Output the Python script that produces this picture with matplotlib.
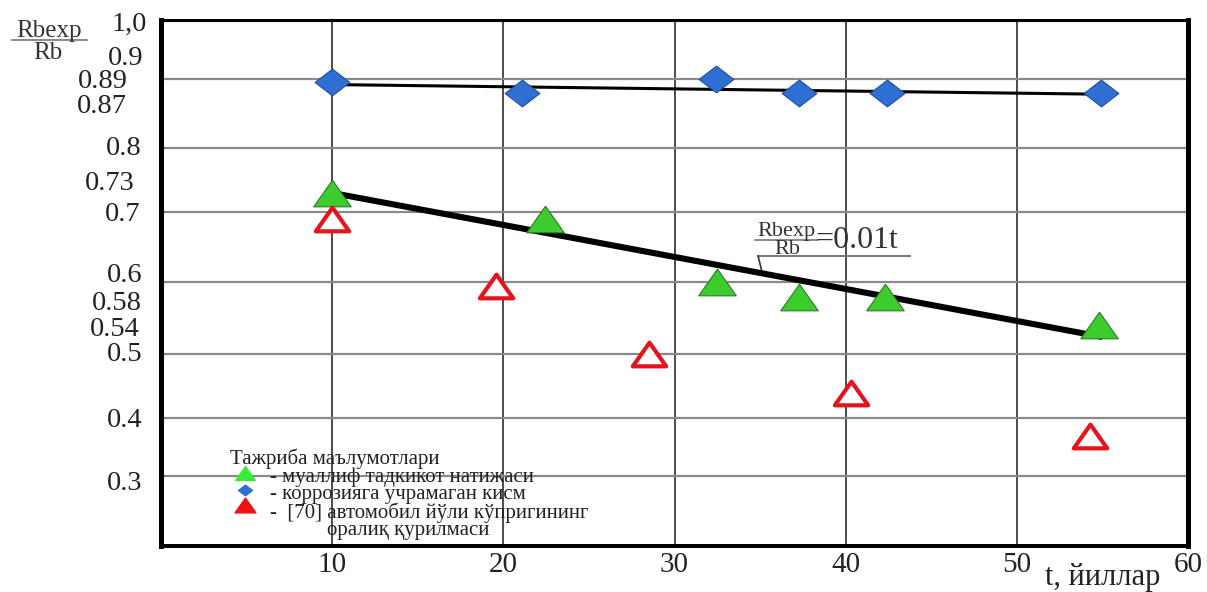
import numpy as np
import matplotlib
matplotlib.use("Agg")
import matplotlib.pyplot as plt
from matplotlib.path import Path
from matplotlib.lines import Line2D

# --- data ---
t_author = [10, 22.45, 32.5, 37.3, 42.3, 54.8]        # green, author's tests
r_author = [0.73, 0.69, 0.60, 0.58, 0.58, 0.54]
t_sound = [10, 21.1, 32.4, 37.3, 42.4, 54.9]          # blue, uncorroded part
r_sound = [0.895, 0.88, 0.90, 0.88, 0.88, 0.88]
t_ref = [10, 19.6, 28.5, 40.3, 54.3]                  # red, [70] bridge span
r_ref = [0.69, 0.595, 0.50, 0.44, 0.37]
trend_author_t = [10, 55]
trend_author_r = [0.73, 0.524]
trend_sound_t = [10, 55]
trend_sound_r = [0.892, 0.878]

x_ticks = [10, 20, 30, 40, 50, 60]
y_grid = [0.3, 0.4, 0.5, 0.6, 0.7, 0.8, 0.9]
y_labels = ["1,0", "0.9", "0.89", "0.87", "0.8", "0.73", "0.7",
            "0.6", "0.58", "0.54", "0.5", "0.4", "0.3"]
y_label_pos = [0.992, 0.935, 0.896, 0.860, 0.8, 0.745, 0.696,
               0.610, 0.570, 0.535, 0.500, 0.397, 0.288]
y_label_right = [147, 143, 128, 127, 142, 135, 140, 143, 142, 140, 142, 142, 142]

legend_title = "Тажриба маълумотлари"
legend_lines = ["- муаллиф тадкикот натижаси",
                "- коррозияга учрамаган кисм",
                "-  [70] автомобил йўли кўпригининг"]
legend_tail = "оралиқ қурилмаси"

# the original axis is hand drawn: gridlines are not evenly spaced
scale_v = np.array([0.1, 0.2, 0.3, 0.4, 0.5, 0.6, 0.7, 0.8, 0.9, 1.0, 1.1])
scale_p = -np.array([592, 534, 476, 418, 354, 282, 212, 148, 79, 20, -39], float)


def fwd(v):
    return np.interp(v, scale_v, scale_p)


def inv(p):
    return np.interp(p, scale_p, scale_v)


tri = Path([(0, 0.71), (-1, -0.71), (1, -0.71), (0, 0.71)],
           [Path.MOVETO, Path.LINETO, Path.LINETO, Path.CLOSEPOLY])
dia = Path([(0, 0.77), (1, 0), (0, -0.77), (-1, 0), (0, 0.77)],
           [Path.MOVETO, Path.LINETO, Path.LINETO, Path.LINETO, Path.CLOSEPOLY])

plt.rcParams["font.family"] = ["Liberation Serif", "DejaVu Serif"]

W, H = 1207, 592
fig = plt.figure(figsize=(W / 100, H / 100), dpi=100)
ax = fig.add_axes([161 / W, 46 / H, 1027 / W, 526 / H])
ax.set_yscale("function", functions=(fwd, inv))
ax.set_xlim(0, 60)
ax.set_ylim(0.18, 1.0)

for spine, lw in (("left", 3.6), ("right", 3.6), ("top", 2.2), ("bottom", 2.9)):
    ax.spines[spine].set_linewidth(lw)
    ax.spines[spine].set_color("black")

ax.set_yticks(y_grid)
ax.set_yticklabels([])
ax.yaxis.set_minor_locator(matplotlib.ticker.NullLocator())
ax.set_xticks(x_ticks)
ax.set_xticklabels([str(v) for v in x_ticks], fontsize=21, color="#222222")
ax.tick_params(axis="both", length=0)
ax.tick_params(axis="x", pad=4)
ax.grid(axis="x", color="#1a1a1a", linewidth=1.1)
ax.grid(axis="y", color="#8a8a8a", linewidth=1.6)

# trend lines
ax.plot(trend_sound_t, trend_sound_r, color="black", linewidth=2.2, zorder=3)
ax.plot(trend_author_t, trend_author_r, color="black", linewidth=4.4,
        solid_capstyle="butt", zorder=3)

# points
ax.plot(t_sound, r_sound, linestyle="none", marker=dia, markersize=25,
        markerfacecolor="#2f6fd3", markeredgecolor="#1f4f9f",
        markeredgewidth=0.8, zorder=4)
ax.plot(t_author, r_author, linestyle="none", marker=tri, markersize=27,
        markerfacecolor="#3ccc2e", markeredgecolor="#2a7a2a",
        markeredgewidth=0.8, zorder=4)
ax.plot(t_ref, r_ref, linestyle="none", marker=tri, markersize=24,
        markerfacecolor="white", markeredgecolor="#e5131c",
        markeredgewidth=3.0, zorder=4)

# y labels placed by hand, as in the original drawing
ytr = ax.get_yaxis_transform()
for lab, pos, right in zip(y_labels, y_label_pos, y_label_right):
    ax.text((right - 161) / 1027, pos, lab, transform=ytr, ha="right",
            va="center", fontsize=20.5, color="#222222", clip_on=False)

# y axis name
fig.text(49 / W, 1 - 31 / H, "Rbexp", ha="center", va="center",
         fontsize=18, color="#333333")
fig.add_artist(Line2D([12 / W, 87 / W], [1 - 40 / H, 1 - 40 / H],
                      color="#777777", linewidth=1.2))
fig.text(48 / W, 1 - 53 / H, "Rb", ha="center", va="center",
         fontsize=18, color="#333333")

# x axis name
fig.text(1103 / W, 1 - 577 / H, "t, йиллар", ha="center", va="center",
         fontsize=22, color="#222222")

# equation of the trend
atr = ax.transAxes
ax.text(0.6086, 0.598, "Rbexp", transform=atr, ha="center", va="center",
        fontsize=16, color="#333333")
ax.text(0.6096, 0.563, "Rb", transform=atr, ha="center", va="center",
        fontsize=16, color="#333333")
ax.text(0.6368, 0.580, "=0.01t", transform=atr, ha="left", va="center",
        fontsize=23, color="#333333")
ax.plot([0.5786, 0.6399], [0.582, 0.582], transform=atr, color="#777777",
        linewidth=1.2)
ax.plot([0.5814, 0.7293], [0.5513, 0.5513], transform=atr, color="#777777",
        linewidth=1.4)
ax.plot([0.5814, 0.5852], [0.5513, 0.521], transform=atr, color="#333333",
        linewidth=1.2)

# hand made legend
ax.text(0.0672, 0.166, legend_title, transform=atr, ha="left", va="center",
        fontsize=15, color="#222222")
ax.plot([0.0818], [0.139], transform=atr, marker=tri, markersize=14,
        color="#33ee33", linestyle="none", clip_on=False)
ax.plot([0.0818], [0.106], transform=atr, marker=dia, markersize=10,
        color="#2f6fd3", linestyle="none", clip_on=False)
ax.plot([0.0818], [0.078], transform=atr, marker=tri, markersize=15,
        color="#ee1111", linestyle="none", clip_on=False)
for i, line in enumerate(legend_lines):
    ax.text(0.106, 0.131 - i * 0.034, line, transform=atr, ha="left",
            va="center", fontsize=15, color="#222222")
ax.text(0.1616, 0.030, legend_tail, transform=atr, ha="left", va="center",
        fontsize=15, color="#222222")

fig.savefig("out.png", dpi=100)
